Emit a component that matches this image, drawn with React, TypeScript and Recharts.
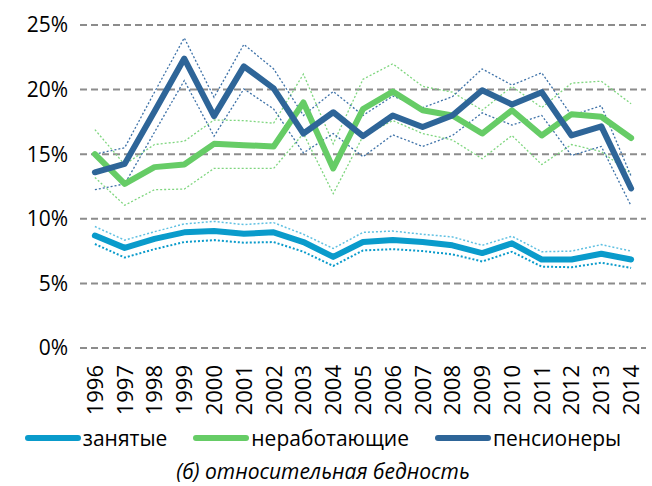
import { LineChart, Line, XAxis, YAxis, CartesianGrid, Legend } from 'recharts';

const years = [1996, 1997, 1998, 1999, 2000, 2001, 2002, 2003, 2004, 2005, 2006, 2007, 2008, 2009, 2010, 2011, 2012, 2013, 2014];

const employed = [8.7, 7.75, 8.45, 8.95, 9.05, 8.85, 8.95, 8.2, 7.05, 8.2, 8.35, 8.2, 7.95, 7.35, 8.1, 6.85, 6.85, 7.3, 6.85];
const employedHi = [9.4, 8.35, 9.0, 9.6, 9.8, 9.55, 9.7, 8.8, 7.7, 8.95, 9.05, 8.8, 8.6, 7.95, 8.65, 7.45, 7.5, 8.0, 7.5];
const employedLo = [8.05, 7.0, 7.65, 8.2, 8.35, 8.15, 8.2, 7.45, 6.35, 7.55, 7.65, 7.5, 7.25, 6.7, 7.45, 6.3, 6.25, 6.6, 6.2];

const nonWorking = [15.0, 12.7, 14.0, 14.2, 15.8, 15.7, 15.6, 19.0, 13.9, 18.5, 19.85, 18.4, 18.0, 16.6, 18.4, 16.45, 18.1, 17.9, 16.25];
const nonWorkingHi = [16.9, 14.2, 15.75, 16.0, 17.65, 17.6, 17.4, 21.2, 15.8, 20.8, 22.0, 20.25, 19.8, 18.4, 20.25, 18.6, 20.5, 20.65, 18.9];
const nonWorkingLo = [13.2, 11.05, 12.25, 12.3, 13.9, 13.9, 13.9, 16.6, 11.95, 16.4, 17.6, 16.6, 16.1, 14.65, 16.45, 14.2, 15.75, 15.2, 13.5];

const pensioners = [13.6, 14.25, 18.3, 22.4, 17.95, 21.8, 20.1, 16.6, 18.25, 16.4, 18.0, 17.1, 18.0, 19.95, 18.85, 19.8, 16.45, 17.15, 12.35];
const pensionersHi = [15.0, 15.5, 19.8, 24.0, 19.4, 23.5, 21.6, 18.0, 19.85, 18.0, 19.5, 18.6, 19.45, 21.6, 20.35, 21.3, 18.0, 18.75, 13.3];
const pensionersLo = [12.25, 12.7, 16.7, 20.7, 16.4, 20.05, 18.5, 15.1, 16.6, 14.8, 16.5, 15.6, 16.45, 18.2, 17.25, 18.0, 14.9, 15.6, 11.0];

const yTicks = [0, 5, 10, 15, 20, 25];
const bandEdges = [...years.map((y) => y - 0.5), years[years.length - 1] + 0.5];

const seriesNames = ['занятые', 'неработающие', 'пенсионеры'];
const seriesColors = ['#0a9bcb', '#66cc66', '#2e6598'];
const title = '(б) относительная бедность';

const data = years.map((year, i) => ({
  year,
  emp: employed[i],
  empHi: employedHi[i],
  empLo: employedLo[i],
  non: nonWorking[i],
  nonHi: nonWorkingHi[i],
  nonLo: nonWorkingLo[i],
  pen: pensioners[i],
  penHi: pensionersHi[i],
  penLo: pensionersLo[i],
}));

const FONT = '"Open Sans", sans-serif';

const YearTick = ({ x, y, payload }: any) => (
  <text
    transform={`translate(${x},${y + 9}) rotate(-90)`}
    textAnchor="end"
    dy="0.36em"
    fontSize={22}
    fontFamily={FONT}
    fill="#000"
  >
    {payload.value}
  </text>
);

const LegendBox = () => (
  <div style={{ height: 68, fontFamily: FONT, color: '#000' }}>
    <div style={{ display: 'flex', justifyContent: 'center', alignItems: 'center', height: 40, gap: 26 }}>
      {seriesNames.map((name, i) => (
        <div key={name} style={{ display: 'flex', alignItems: 'center' }}>
          <svg width={56} height={10}>
            <line x1={3} y1={5} x2={53} y2={5} stroke={seriesColors[i]} strokeWidth={6} strokeLinecap="round" />
          </svg>
          <span style={{ fontSize: 21, marginLeft: 2 }}>{name}</span>
        </div>
      ))}
    </div>
    <div style={{ textAlign: 'center', fontSize: 21, fontStyle: 'italic', lineHeight: '26px' }}>{title}</div>
  </div>
);

const boundLine = (key: string, color: string, width: number) => (
  <Line
    key={key}
    xAxisId="yr"
    type="linear"
    dataKey={key}
    stroke={color}
    strokeWidth={width}
    strokeDasharray="2 2"
    dot={false}
    activeDot={false}
    legendType="none"
    isAnimationActive={false}
  />
);

export default function App() {
  return (
    <div style={{ position: 'absolute', left: 0, top: 0, width: 652, height: 486, background: '#fff' }}>
      <LineChart width={652} height={486} data={data} margin={{ top: 25, right: 6, left: 0, bottom: 0 }}>
        <CartesianGrid vertical={false} stroke="#8c8c8c" strokeWidth={2} strokeDasharray="7 4" />
        <XAxis
          xAxisId="edges"
          type="number"
          dataKey="year"
          domain={[years[0] - 0.5, years[years.length - 1] + 0.5]}
          ticks={bandEdges}
          tick={false}
          tickSize={6}
          height={0}
          axisLine={{ stroke: '#a6a6a6', strokeWidth: 2 }}
          tickLine={{ stroke: '#a6a6a6', strokeWidth: 1.5 }}
        />
        <XAxis
          xAxisId="yr"
          type="number"
          dataKey="year"
          domain={[years[0] - 0.5, years[years.length - 1] + 0.5]}
          ticks={years}
          interval={0}
          height={70}
          axisLine={false}
          tickLine={false}
          tick={<YearTick />}
        />
        <YAxis
          domain={[0, 25]}
          ticks={yTicks}
          width={80}
          axisLine={false}
          tickLine={false}
          tickSize={0}
          tickMargin={12}
          tickFormatter={(v) => `${v}%`}
          tick={{ fill: '#000', fontSize: 21, fontFamily: FONT }}
        />
        <Legend verticalAlign="bottom" content={<LegendBox />} />

        {boundLine('empHi', '#5fc0e2', 1.5)}
        {boundLine('empLo', '#0a9bcb', 2)}
        {boundLine('nonHi', '#7fd67f', 1.3)}
        {boundLine('nonLo', '#7fd67f', 1.3)}
        {boundLine('penHi', '#3e72a8', 1.3)}
        {boundLine('penLo', '#3e72a8', 1.3)}

        <Line xAxisId="yr" type="linear" dataKey="emp" stroke={seriesColors[0]} strokeWidth={6} strokeLinejoin="round" strokeLinecap="round" dot={false} isAnimationActive={false} />
        <Line xAxisId="yr" type="linear" dataKey="non" stroke={seriesColors[1]} strokeWidth={6} strokeLinejoin="round" strokeLinecap="round" dot={false} isAnimationActive={false} />
        <Line xAxisId="yr" type="linear" dataKey="pen" stroke={seriesColors[2]} strokeWidth={6} strokeLinejoin="round" strokeLinecap="round" dot={false} isAnimationActive={false} />
      </LineChart>
    </div>
  );
}
